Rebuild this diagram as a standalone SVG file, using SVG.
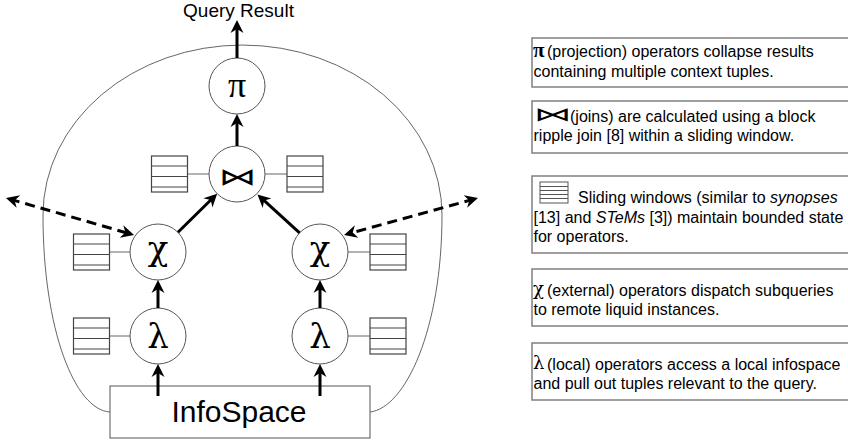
<svg xmlns="http://www.w3.org/2000/svg" width="848" height="441" viewBox="0 0 848 441">
<style>
.op{fill:#fff;stroke:#555;stroke-width:1}
.link{stroke:#666;stroke-width:1}
.sym{font-family:"DejaVu Serif","Liberation Serif",serif;text-anchor:middle;fill:#000}
.pi{font-family:"Liberation Serif","DejaVu Serif",serif;fill:#000}
.bow{font-family:"DejaVu Sans",sans-serif;text-anchor:middle;fill:#000}
.arrow{stroke:#000;stroke-width:3;fill:none;marker-end:url(#ah)}
.dash{stroke:#000;stroke-width:3;fill:none;stroke-dasharray:10 6;marker-start:url(#ah);marker-end:url(#ah)}
.leg{fill:#fff;stroke:#808080;stroke-width:1.5}
.lt{font-family:"Liberation Sans",Arial,sans-serif;font-size:16px;fill:#000}
.lsym{font-family:"DejaVu Serif","Liberation Serif",serif;fill:#000}
</style>
<defs>
<marker id="ah" viewBox="-14 -8 16 16" refX="-4" refY="0" markerWidth="16" markerHeight="16" markerUnits="userSpaceOnUse" orient="auto-start-reverse">
<path d="M0,0 L-13,-6.5 L-9,0 L-13,6.5 Z" fill="#000"/>
</marker>
<g id="w" fill="#fff" stroke="#444" stroke-width="1.2">
<rect x="0" y="0" width="36" height="36"/>
<line x1="0" y1="10" x2="36" y2="10"/>
<line x1="0" y1="20.5" x2="36" y2="20.5"/>
<line x1="0" y1="31" x2="36" y2="31"/>
</g>
</defs>
<rect width="848" height="441" fill="#fff"/>

<g id="boundary">
<path d="M110,412 C75,410 43,330 43,215 A199.5,170 0 0 1 442,215 C442,330 405,408 370,412" fill="none" stroke="#666" stroke-width="1"/>
</g>

<g id="window-links">
<line class="link" x1="187.5" y1="174" x2="209" y2="174"/>
<line class="link" x1="265" y1="174" x2="287" y2="174"/>
<line class="link" x1="109.5" y1="252" x2="130" y2="252"/>
<line class="link" x1="348" y1="252" x2="370" y2="252"/>
<line class="link" x1="109.5" y1="336" x2="130" y2="336"/>
<line class="link" x1="348" y1="336" x2="370" y2="336"/>
</g>

<g id="windows">
<use href="#w" x="151.5" y="156"/>
<use href="#w" x="287" y="156"/>
<use href="#w" x="73.5" y="234"/>
<use href="#w" x="370" y="234"/>
<use href="#w" x="73.5" y="318"/>
<use href="#w" x="370" y="318"/>
</g>

<g id="infospace">
<rect x="110" y="386" width="260" height="52" fill="#fff" stroke="#555" stroke-width="1"/>
<text x="239" y="422" font-family="Liberation Sans, Arial, sans-serif" font-size="30" text-anchor="middle">InfoSpace</text>
</g>

<g id="pi">
<circle class="op" cx="237" cy="86" r="28"/>
<text class="pi" x="237" y="97" font-size="36" text-anchor="middle">π</text>
</g>
<g id="join">
<circle class="op" cx="237" cy="174" r="28"/>
<text class="bow" x="0" y="0" font-size="30" transform="translate(237,185) scale(1.25,0.8)">⋈</text>
</g>
<g id="chi-left">
<circle class="op" cx="158" cy="252" r="28"/>
<text class="sym" x="158" y="260" font-size="34">χ</text>
</g>
<g id="chi-right">
<circle class="op" cx="320" cy="252" r="28"/>
<text class="sym" x="320" y="260" font-size="34">χ</text>
</g>
<g id="lambda-left">
<circle class="op" cx="158" cy="336" r="28"/>
<text class="sym" x="158" y="348" font-size="34">λ</text>
</g>
<g id="lambda-right">
<circle class="op" cx="320" cy="336" r="28"/>
<text class="sym" x="320" y="348" font-size="34">λ</text>
</g>

<g id="query-result">
<text x="238.5" y="17" font-family="Liberation Sans, Arial, sans-serif" font-size="19" text-anchor="middle">Query Result</text>
</g>

<g id="connectors">
<line class="arrow" x1="237" y1="58" x2="237" y2="24"/>
<line class="arrow" x1="237" y1="146" x2="237" y2="118"/>
<line class="arrow" x1="178" y1="232.3" x2="214.3" y2="196.5"/>
<line class="arrow" x1="299.6" y1="232.8" x2="260.4" y2="197.2"/>
<line class="arrow" x1="158" y1="308" x2="158" y2="284"/>
<line class="arrow" x1="320" y1="308" x2="320" y2="284"/>
<line class="arrow" x1="158" y1="396" x2="158" y2="368"/>
<line class="arrow" x1="320" y1="396" x2="320" y2="368"/>
<line class="dash" x1="9.8" y1="199.1" x2="130.2" y2="233.9"/>
<line class="dash" x1="474.1" y1="199.1" x2="347.9" y2="233.9"/>
</g>

<g id="legend-pi">
<rect class="leg" x="532" y="38" width="330" height="49"/>
<text class="pi" x="533" y="57" font-size="21" font-weight="bold">π</text>
<text class="lt" x="547" y="57">(projection) operators collapse results</text>
<text class="lt" x="533.5" y="77">containing multiple context tuples.</text>
</g>
<g id="legend-join">
<rect class="leg" x="532" y="101" width="330" height="52"/>
<text class="bow" x="0" y="0" font-size="26" transform="translate(552.5,121) scale(1.45,0.75)">⋈</text>
<text class="lt" x="570" y="122">(joins) are calculated using a block</text>
<text class="lt" x="533.5" y="141">ripple join [8] within a sliding window.</text>
</g>
<g id="legend-window">
<rect class="leg" x="532" y="176" width="330" height="77"/>
<g stroke="#555" stroke-width="1" fill="#fff">
<rect x="540" y="182" width="28" height="21"/>
<line x1="540" y1="186.5" x2="568" y2="186.5"/>
<line x1="540" y1="190.5" x2="568" y2="190.5"/>
<line x1="540" y1="194.5" x2="568" y2="194.5"/>
<line x1="540" y1="198.5" x2="568" y2="198.5"/>
</g>
<text class="lt" x="578" y="203">Sliding windows (similar to <tspan font-style="italic">synopses</tspan></text>
<text class="lt" x="533.5" y="223">[13] and <tspan font-style="italic">STeMs</tspan> [3]) maintain bounded state</text>
<text class="lt" x="533.5" y="242">for operators.</text>
</g>
<g id="legend-chi">
<rect class="leg" x="532" y="269" width="330" height="57"/>
<text class="lsym" x="533" y="295" font-size="18">χ</text>
<text class="lt" x="547" y="296">(external) operators dispatch subqueries</text>
<text class="lt" x="533.5" y="315">to remote liquid instances.</text>
</g>
<g id="legend-lambda">
<rect class="leg" x="532" y="343" width="330" height="57"/>
<text class="lsym" x="533" y="369" font-size="18">λ</text>
<text class="lt" x="547" y="370">(local) operators access a local infospace</text>
<text class="lt" x="533.5" y="389">and pull out tuples relevant to the query.</text>
</g>
</svg>
